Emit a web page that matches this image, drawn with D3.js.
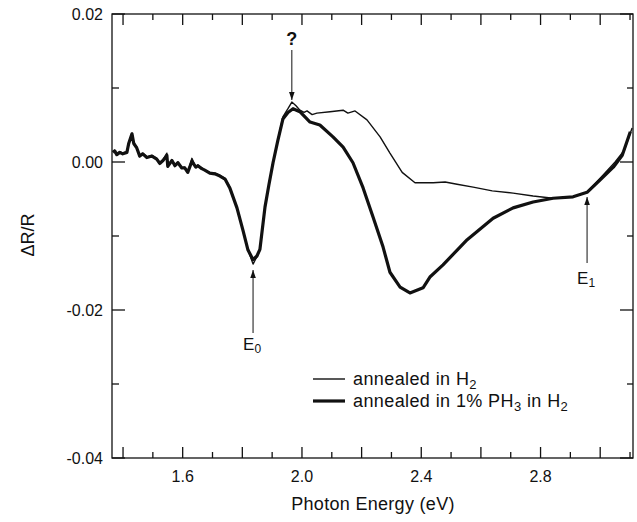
<!DOCTYPE html>
<html>
<head>
<meta charset="utf-8">
<script src="https://cdn.jsdelivr.net/npm/d3@7"></script>
<style>
  body { margin: 0; background: #fff; }
  svg { font-family: "Liberation Sans", Arial, sans-serif; }
</style>
</head>
<body>
<svg class="vis" width="637" height="522"></svg>
<script>
// photon energy (eV) and dR/R for the H2 anneal (thin line)
var energyH2 = [1.366, 1.372, 1.379, 1.389, 1.399, 1.413, 1.419, 1.430, 1.436, 1.446, 1.456, 1.466, 1.480, 1.497,
    1.513, 1.523, 1.534, 1.547, 1.550, 1.564, 1.574, 1.584, 1.597, 1.607, 1.617, 1.631, 1.644, 1.651, 1.664,
    1.674, 1.691, 1.708, 1.725, 1.742, 1.758, 1.782, 1.802, 1.819, 1.836, 1.849, 1.859, 1.876, 1.889, 1.903,
    1.919, 1.936, 1.953, 1.966, 1.980, 1.993, 2.007, 2.017, 2.034, 2.050, 2.094, 2.138, 2.154, 2.178, 2.218,
    2.262, 2.295, 2.336, 2.379, 2.440, 2.480, 2.520, 2.574, 2.638, 2.708, 2.775, 2.842, 2.909, 2.956, 3.000,
    3.050, 3.081, 3.107];
var dRH2 = [0.0014, 0.0016, 0.0009, 0.0014, 0.0012, 0.0014, 0.0026, 0.0039, 0.0026, 0.0020, 0.0007, 0.0012, 0.0007, 0.0009,
    0.0005, -0.0001, 0.0003, 0.0012, -0.0007, 0.0003, -0.0004, 0.0000, -0.0008, -0.0007, -0.0014, 0.0005, -0.0007, -0.0004, -0.0008,
    -0.0011, -0.0014, -0.0015, -0.0018, -0.0022, -0.0034, -0.0061, -0.0092, -0.0119, -0.0138, -0.0128, -0.0119, -0.0061, -0.0031, -0.0001,
    0.0030, 0.0061, 0.0072, 0.0081, 0.0076, 0.0070, 0.0067, 0.0069, 0.0064, 0.0066, 0.0068, 0.0070, 0.0066, 0.0069, 0.0057,
    0.0034, 0.0012, -0.0014, -0.0028, -0.0028, -0.0027, -0.0030, -0.0034, -0.0039, -0.0042, -0.0046, -0.0049, -0.0047, -0.0041, -0.0022,
    0.0000, 0.0016, 0.0046];

// photon energy (eV) and dR/R for the 1% PH3 in H2 anneal (thick line)
var energyPH3 = [1.366, 1.372, 1.379, 1.389, 1.399, 1.413, 1.419, 1.430, 1.436, 1.446, 1.456, 1.466, 1.480, 1.497,
    1.513, 1.523, 1.534, 1.547, 1.550, 1.564, 1.574, 1.584, 1.597, 1.607, 1.617, 1.631, 1.644, 1.651, 1.664,
    1.674, 1.691, 1.708, 1.725, 1.742, 1.758, 1.782, 1.802, 1.819, 1.836, 1.849, 1.859, 1.876, 1.889, 1.903,
    1.919, 1.936, 1.953, 1.970, 1.993, 2.027, 2.060, 2.104, 2.138, 2.171, 2.205, 2.238, 2.272, 2.295, 2.329,
    2.362, 2.406, 2.430, 2.473, 2.530, 2.554, 2.641, 2.708, 2.775, 2.842, 2.909, 2.956, 3.000, 3.044, 3.074, 3.101];
var dRPH3 = [0.0013, 0.0015, 0.0010, 0.0013, 0.0011, 0.0013, 0.0025, 0.0038, 0.0025, 0.0019, 0.0008, 0.0011, 0.0006, 0.0008,
    0.0004, -0.0002, 0.0002, 0.0009, -0.0006, 0.0002, -0.0005, -0.0001, -0.0008, -0.0008, -0.0014, 0.0001, -0.0007, -0.0005, -0.0009,
    -0.0011, -0.0015, -0.0016, -0.0019, -0.0023, -0.0035, -0.0062, -0.0092, -0.0119, -0.0132, -0.0127, -0.0118, -0.0061, -0.0031, -0.0001,
    0.0029, 0.0058, 0.0067, 0.0072, 0.0068, 0.0054, 0.0050, 0.0034, 0.0020, -0.0001, -0.0035, -0.0074, -0.0115, -0.0149, -0.0169,
    -0.0177, -0.0170, -0.0155, -0.0139, -0.0115, -0.0105, -0.0076, -0.0062, -0.0054, -0.0049, -0.0047, -0.0041, -0.0024, -0.0007, 0.0009, 0.0041];

var xTickLabels = [1.6, 2.0, 2.4, 2.8];
var yTickLabels = [0.02, 0.00, -0.02, -0.04];

var svg = d3.select(".vis");

var plotLeft = 112, plotRight = 633, plotTop = 14, plotBottom = 458;

var x = d3.scaleLinear()
    .domain([1.363, 3.11])
    .range([plotLeft, plotRight]);

var y = d3.scaleLinear()
    .domain([-0.04, 0.02])
    .range([plotBottom, plotTop]);

// frame
svg.append("rect")
    .attr("x", plotLeft)
    .attr("y", plotTop)
    .attr("width", plotRight - plotLeft)
    .attr("height", plotBottom - plotTop)
    .attr("fill", "none")
    .attr("stroke", "#111")
    .attr("stroke-width", 1.3);

// ticks, all pointing inward, on all four sides
var xTicks = d3.range(14, 32).map(d => d / 10);
var yTicks = d3.range(-4, 3).map(d => d / 100);

function isMajorX(d) { return Math.abs(Math.round(d * 10) % 2) === 0; }
function isMajorY(d) { return Math.abs(Math.round(d * 100) % 2) === 0; }

svg.selectAll(".xtick-b")
    .data(xTicks).enter().append("line")
    .attr("class", "xtick-b")
    .attr("x1", d => x(d)).attr("x2", d => x(d))
    .attr("y1", plotBottom).attr("y2", d => plotBottom - (isMajorX(d) ? 11 : 6))
    .attr("stroke", "#111").attr("stroke-width", 1.3);

svg.selectAll(".xtick-t")
    .data(xTicks).enter().append("line")
    .attr("class", "xtick-t")
    .attr("x1", d => x(d)).attr("x2", d => x(d))
    .attr("y1", plotTop).attr("y2", d => plotTop + (isMajorX(d) ? 11 : 6))
    .attr("stroke", "#111").attr("stroke-width", 1.3);

svg.selectAll(".ytick-l")
    .data(yTicks).enter().append("line")
    .attr("class", "ytick-l")
    .attr("x1", plotLeft).attr("x2", d => plotLeft + (isMajorY(d) ? 13 : 7))
    .attr("y1", d => y(d)).attr("y2", d => y(d))
    .attr("stroke", "#111").attr("stroke-width", 1.3);

svg.selectAll(".ytick-r")
    .data(yTicks).enter().append("line")
    .attr("class", "ytick-r")
    .attr("x1", plotRight).attr("x2", d => plotRight - (isMajorY(d) ? 13 : 6))
    .attr("y1", d => y(d)).attr("y2", d => y(d))
    .attr("stroke", "#111").attr("stroke-width", 1.3);

// tick labels
svg.selectAll(".xlabel")
    .data(xTickLabels).enter().append("text")
    .attr("class", "xlabel")
    .attr("x", d => x(d))
    .attr("y", 482)
    .attr("text-anchor", "middle")
    .attr("font-size", "16px")
    .attr("fill", "#111")
    .text(d => d.toFixed(1));

svg.selectAll(".ylabel")
    .data(yTickLabels).enter().append("text")
    .attr("class", "ylabel")
    .attr("x", 103)
    .attr("y", d => y(d) + 6)
    .attr("text-anchor", "end")
    .attr("font-size", "16px")
    .attr("fill", "#111")
    .text(d => d.toFixed(2));

// axis titles
svg.append("text")
    .attr("x", 373)
    .attr("y", 510)
    .attr("text-anchor", "middle")
    .attr("font-size", "18px")
    .attr("letter-spacing", "0.3px")
    .attr("fill", "#111")
    .text("Photon Energy (eV)");

svg.append("text")
    .attr("transform", "translate(34, 235) rotate(-90)")
    .attr("text-anchor", "middle")
    .attr("font-size", "18px")
    .attr("fill", "#111")
    .text("ΔR/R");

// curves
var line = d3.line()
    .x(d => x(d[0]))
    .y(d => y(d[1]));

svg.append("path")
    .datum(energyH2.map((e, i) => [e, dRH2[i]]))
    .attr("d", line)
    .attr("fill", "none")
    .attr("stroke", "#111")
    .attr("stroke-width", 1.4)
    .attr("stroke-linejoin", "round");

svg.append("path")
    .datum(energyPH3.map((e, i) => [e, dRPH3[i]]))
    .attr("d", line)
    .attr("fill", "none")
    .attr("stroke", "#111")
    .attr("stroke-width", 3.2)
    .attr("stroke-linejoin", "round");

// arrows
svg.append("defs").append("marker")
    .attr("id", "head")
    .attr("viewBox", "0 0 10 10")
    .attr("refX", 10).attr("refY", 5)
    .attr("markerWidth", 8).attr("markerHeight", 8)
    .attr("markerUnits", "userSpaceOnUse")
    .attr("orient", "auto")
    .append("path")
    .attr("d", "M0,1.5 L10,5 L0,8.5 Z")
    .attr("fill", "#111");

function arrow(xv, y1, y2) {
    svg.append("line")
        .attr("x1", x(xv)).attr("x2", x(xv))
        .attr("y1", y1).attr("y2", y2)
        .attr("stroke", "#111")
        .attr("stroke-width", 1)
        .attr("marker-end", "url(#head)");
}

arrow(1.966, 50, 100);
arrow(1.836, 333, 270);
arrow(2.956, 263, 197);

svg.append("text")
    .attr("x", x(1.966))
    .attr("y", 45)
    .attr("text-anchor", "middle")
    .attr("font-size", "18px")
    .attr("font-weight", "bold")
    .attr("fill", "#111")
    .text("?");

var e0 = svg.append("text")
    .attr("x", x(1.836) - 10)
    .attr("y", 350)
    .attr("font-size", "17px")
    .attr("fill", "#111");
e0.append("tspan").text("E");
e0.append("tspan").attr("font-size", "12px").attr("dy", 3).text("0");

var e1 = svg.append("text")
    .attr("x", x(2.956) - 10)
    .attr("y", 284)
    .attr("font-size", "17px")
    .attr("fill", "#111");
e1.append("tspan").text("E");
e1.append("tspan").attr("font-size", "12px").attr("dy", 3).text("1");

// legend
var legend = svg.append("g")
    .attr("transform", "translate(313, 379)");

legend.append("line")
    .attr("x1", 0).attr("x2", 32)
    .attr("y1", 0).attr("y2", 0)
    .attr("stroke", "#111").attr("stroke-width", 1.4);

legend.append("line")
    .attr("x1", 0).attr("x2", 32)
    .attr("y1", 22).attr("y2", 22)
    .attr("stroke", "#111").attr("stroke-width", 3.2);

var t1 = legend.append("text")
    .attr("x", 40).attr("y", 6)
    .attr("font-size", "18px")
    .attr("letter-spacing", "0.4px")
    .attr("fill", "#111");
t1.append("tspan").text("annealed in H");
t1.append("tspan").attr("font-size", "13px").attr("dy", 4).text("2");

var t2 = legend.append("text")
    .attr("x", 40).attr("y", 28)
    .attr("font-size", "18px")
    .attr("letter-spacing", "0.4px")
    .attr("fill", "#111");
t2.append("tspan").text("annealed in 1% PH");
t2.append("tspan").attr("font-size", "13px").attr("dy", 4).text("3");
t2.append("tspan").attr("dy", -4).text(" in H");
t2.append("tspan").attr("font-size", "13px").attr("dy", 4).text("2");
</script>
</body>
</html>
